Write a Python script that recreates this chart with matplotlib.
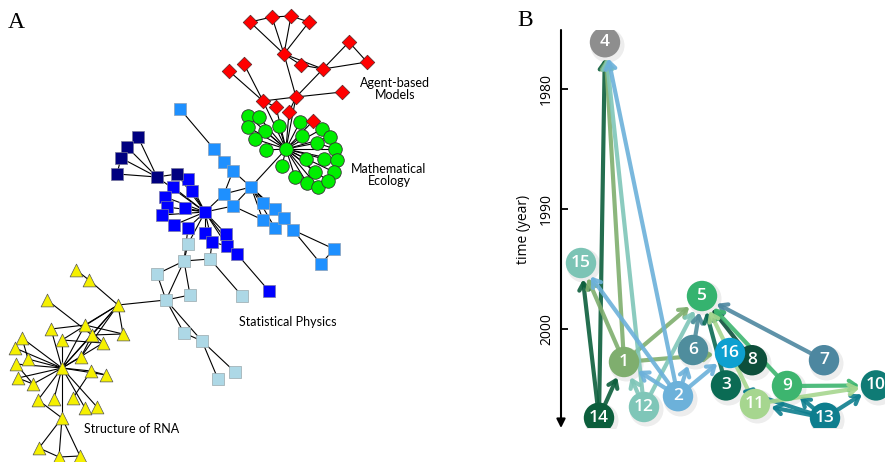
import matplotlib
matplotlib.use('Agg')
import matplotlib.pyplot as plt
from matplotlib.collections import LineCollection

# ---- panel A: network layout (layout units) ----
red_x = [250, 272, 291, 309, 284, 349, 367, 301, 323, 244, 229, 342, 263, 296, 276, 289, 313]
red_y = [22, 17, 16, 22, 54, 42, 62, 65, 69, 64, 71, 92, 101, 97, 107, 112, 121]

green_x = [286, 248, 259, 248, 265, 279, 300, 322, 330, 255, 302, 317, 335, 266, 306, 324, 337, 282, 295, 315, 334, 307, 318, 328]
green_y = [149, 116, 117, 127, 131, 126, 122, 129, 137, 139, 136, 143, 149, 150, 159, 159, 160, 166, 177, 172, 172, 183, 187, 181]

dodger_x = [180, 214, 224, 233, 251, 224, 233, 263, 275, 263, 275, 284, 293, 334, 321]
dodger_y = [109, 149, 162, 171, 187, 194, 206, 203, 209, 220, 228, 218, 230, 249, 264]

navy_x = [138, 127, 121, 117, 157, 177]
navy_y = [137, 147, 158, 174, 177, 174]

blue_x = [205, 188, 192, 173, 165, 167, 185, 162, 174, 188, 205, 212, 226, 227, 237, 269]
blue_y = [212, 179, 191, 187, 197, 207, 208, 215, 225, 228, 233, 242, 234, 246, 254, 291]

light_x = [188, 184, 210, 157, 166, 190, 242, 184, 202, 235, 218]
light_y = [244, 261, 259, 274, 300, 295, 296, 333, 341, 372, 379]

yellow_x = [76, 89, 47, 118, 85, 51, 92, 123, 62, 103, 22, 15, 28, 81, 16, 62, 91, 106, 18, 33, 38, 54, 73, 85, 97, 62, 39, 59, 80]
yellow_y = [270, 280, 300, 305, 325, 329, 335, 334, 340, 343, 338, 348, 359, 357, 364, 368, 371, 375, 378, 384, 400, 399, 398, 408, 407, 418, 448, 457, 456]

edges_a = (
    [('r0', 'r4'), ('r1', 'r4'), ('r2', 'r4'), ('r3', 'r4'), ('r0', 'r1'), ('r1', 'r2'), ('r2', 'r3'),
     ('r4', 'r7'), ('r4', 'r8'), ('r7', 'r8'), ('r8', 'r5'), ('r5', 'r6'), ('r6', 'r8'), ('r8', 'r13'),
     ('r4', 'r13'), ('r9', 'r12'), ('r10', 'r12'), ('r12', 'r13'), ('r13', 'r11'), ('r12', 'r14'),
     ('r13', 'r15'), ('r12', 'g0'), ('r13', 'g0'), ('r16', 'g0'), ('r14', 'g0'), ('r15', 'g0')]
    + [('g0', 'g%d' % i) for i in range(1, 24)]
    + [('g7', 'g8'), ('g11', 'g12'), ('g15', 'g16'), ('g21', 'g22')]
    + [('d0', 'd1'), ('d1', 'd2'), ('d2', 'd3'), ('d3', 'd4'), ('d4', 'g0'), ('d3', 'd5'), ('d4', 'd5'),
       ('d4', 'd6'), ('d5', 'd6'), ('d4', 'd7'), ('d4', 'd8'), ('d4', 'd9'), ('d4', 'd10'), ('d4', 'd11'),
       ('d4', 'd12'), ('d7', 'd8'), ('d11', 'd12'), ('d12', 'd13'), ('d13', 'd14'), ('d14', 'd12'),
       ('d5', 'b0'), ('d6', 'b0'), ('d6', 'd9')]
    + [('n0', 'n1'), ('n1', 'n2'), ('n2', 'n3'), ('n0', 'n4'), ('n1', 'n4'), ('n2', 'n4'), ('n3', 'n4'),
       ('n4', 'b0'), ('n5', 'b0'), ('n4', 'n5')]
    + [('b0', 'b%d' % i) for i in range(1, 15)]
    + [('b14', 'b15'), ('b13', 'b14'), ('b3', 'b5'), ('b4', 'b7'), ('b1', 'b2'), ('b11', 'b13')]
    + [('l0', 'l1'), ('l1', 'l2'), ('l1', 'l3'), ('l1', 'l4'), ('l3', 'l4'), ('l4', 'l5'), ('l1', 'l5'),
       ('l2', 'l6'), ('l2', 'b11'), ('l1', 'b9'), ('l0', 'b0'), ('l4', 'l7'), ('l4', 'l8'), ('l7', 'l8'),
       ('l8', 'l9'), ('l8', 'l10'), ('l4', 'y3')]
    + [('y0', 'y1'), ('y1', 'y3'), ('y3', 'y4'), ('y3', 'y6'), ('y3', 'y7'), ('y3', 'y8'), ('y3', 'y13'),
       ('y3', 'y15'), ('y2', 'y6'), ('y4', 'y5'), ('y4', 'y7'), ('y4', 'y9'), ('y8', 'y9'), ('y5', 'y15'),
       ('y4', 'y15'), ('y6', 'y15'), ('y9', 'y15'), ('y8', 'y15'), ('y10', 'y12'), ('y10', 'y15'),
       ('y11', 'y15'), ('y12', 'y15'), ('y13', 'y15'), ('y14', 'y15'), ('y14', 'y19'), ('y18', 'y15'),
       ('y18', 'y19'), ('y19', 'y15'), ('y15', 'y16'), ('y15', 'y17'), ('y16', 'y17'), ('y15', 'y20'),
       ('y15', 'y21'), ('y15', 'y23'), ('y15', 'y24'), ('y15', 'y25'), ('y22', 'y16'), ('y20', 'y25'),
       ('y25', 'y26'), ('y25', 'y27'), ('y25', 'y28'), ('y26', 'y27'), ('y27', 'y28'), ('y6', 'y13'),
       ('y7', 'y6')]
)

cluster_names = ['Agent-based\nModels', 'Mathematical\nEcology', 'Statistical Physics', 'Structure of RNA']
cluster_label_x = [395, 389, 288, 132]
cluster_label_y = [89, 175, 322, 429]

# ---- panel B: topic flow over time ----
topic_ids = list(range(1, 17))
topic_x = [63, 117, 165, 44, 141, 132, 263, 191, 226, 315, 194, 83, 264, 38, 20, 169]
topic_year = [2002.75, 2005.6, 2004.7, 1976.1, 1997.25, 2001.75, 2002.6, 2002.6,
              2004.75, 2004.7, 2006.25, 2006.5, 2007.4, 2007.4, 1994.5, 2002.0]
topic_colors = ['#7fae6e', '#6cb1da', '#0b6b54', '#8e8e8e', '#35b36f', '#4f8d9d', '#4d87a0', '#0d4f3b',
                '#3db56f', '#0f7b75', '#a6d68f', '#7fc6b8', '#0e7e8e', '#0c5e3c', '#7cc4b5', '#0ea0d0']
flows = [(14, 4), (14, 15), (14, 1), (1, 4), (1, 15), (1, 5), (1, 16), (12, 4), (12, 1), (12, 5),
         (2, 4), (2, 15), (2, 1), (2, 6), (2, 16), (6, 5), (3, 5), (8, 5), (7, 5), (9, 5), (11, 5),
         (13, 9), (13, 3), (13, 11), (13, 10), (9, 10), (11, 10)]
year_ticks = [1980, 1990, 2000]

fig = plt.figure(figsize=(8.85, 4.62), dpi=100)

# ---------------- A ----------------
ax1 = fig.add_axes([0, 0, 480 / 885, 1])
ax1.set_xlim(0, 480)
ax1.set_ylim(462, 0)
ax1.axis('off')

pos = {}
for pre, xs, ys in [('r', red_x, red_y), ('g', green_x, green_y), ('d', dodger_x, dodger_y),
                    ('n', navy_x, navy_y), ('b', blue_x, blue_y), ('l', light_x, light_y),
                    ('y', yellow_x, yellow_y)]:
    for i, (x, y) in enumerate(zip(xs, ys)):
        pos['%s%d' % (pre, i)] = (x, y)

segs = [[pos[a], pos[b]] for a, b in edges_a]
ax1.add_collection(LineCollection(segs, colors='black', linewidths=0.8, zorder=1))

ax1.scatter(yellow_x, yellow_y, marker='^', s=85, c='#f5f000', edgecolors='#555555', linewidths=0.5, zorder=2)
ax1.scatter(light_x, light_y, marker='s', s=72, c='#add8e6', edgecolors='#9aa8ad', linewidths=0.5, zorder=2)
ax1.scatter(blue_x, blue_y, marker='s', s=72, c='#0000ff', edgecolors='#7a7aa8', linewidths=0.5, zorder=2)
ax1.scatter(navy_x, navy_y, marker='s', s=72, c='#000080', edgecolors='#777799', linewidths=0.5, zorder=2)
ax1.scatter(dodger_x, dodger_y, marker='s', s=72, c='#1e90ff', edgecolors='#8aa0b8', linewidths=0.5, zorder=2)
ax1.scatter(green_x, green_y, marker='o', s=95, c='#00ee00', edgecolors='#333333', linewidths=0.6, zorder=2)
ax1.scatter(red_x, red_y, marker='D', s=55, c='#ff0000', edgecolors='#552222', linewidths=0.5, zorder=2)

for name, x, y in zip(cluster_names, cluster_label_x, cluster_label_y):
    ax1.text(x, y, name, ha='center', va='center', fontsize=9, family='Lato',
             linespacing=1.0, zorder=3)

fig.text(8 / 885, 1 - 22 / 462, 'A', fontsize=17, family='Liberation Serif', va='center', ha='left')
fig.text(517 / 885, 1 - 20 / 462, 'B', fontsize=17, family='Liberation Serif', va='center', ha='left')

# ---------------- B ----------------
ax2 = fig.add_axes([561 / 885, 34 / 462, 324 / 885, 398 / 462])
ax2.set_xlim(0, 324)
ax2.set_ylim(2008.25, 1975.08)
for s in ax2.spines.values():
    s.set_visible(False)
ax2.set_xticks([])
ax2.set_yticks(year_ticks)
ax2.set_yticklabels([str(t) for t in year_ticks], rotation=90, va='center', fontsize=10,
                    family='Open Sans')
ax2.tick_params(axis='y', direction='in', length=5, width=1.3, pad=5)
ax2.set_ylabel('time (year)', fontsize=10, labelpad=6, family='Open Sans')
ax2.annotate('', xy=(0, 0), xytext=(0, 1), xycoords='axes fraction', textcoords='axes fraction',
             arrowprops=dict(arrowstyle='-|>', lw=1.5, color='black', mutation_scale=13,
                             shrinkA=0, shrinkB=0), annotation_clip=False)

px = dict(zip(topic_ids, topic_x))
py = dict(zip(topic_ids, topic_year))
pc = dict(zip(topic_ids, topic_colors))

# soft shadows under the topic bubbles
ax2.scatter([x + 2 for x in topic_x], [y + 0.2 for y in topic_year], s=600, c='#000000',
            alpha=0.07, linewidths=0, zorder=1)

for src, dst in flows:
    ax2.annotate('', xy=(px[dst], py[dst]), xytext=(px[src], py[src]),
                 arrowprops=dict(arrowstyle='->,head_length=0.5,head_width=0.35', lw=3,
                                 color=pc[src], alpha=0.9, shrinkA=9, shrinkB=12),
                 zorder=2)

ax2.scatter(topic_x, topic_year, s=480, c=topic_colors, linewidths=0, zorder=3)
for t, x, y in zip(topic_ids, topic_x, topic_year):
    ax2.text(x, y, str(t), color='white', fontsize=12.5, family='Open Sans', fontweight='semibold',
             ha='center', va='center', zorder=4)

fig.savefig('out.png', dpi=100)
